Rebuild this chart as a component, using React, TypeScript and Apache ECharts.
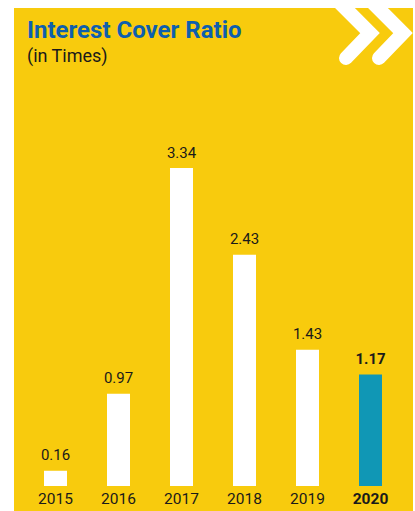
import React, { useEffect, useRef } from "react";
import * as echarts from "echarts";

const years = ["2015", "2016", "2017", "2018", "2019", "2020"];
const values = [0.16, 0.97, 3.34, 2.43, 1.43, 1.17];
const labels = ["0.16", "0.97", "3.34", "2.43", "1.43", "1.17"];

const YELLOW = "#F8CB0D";
const BLUE_TITLE = "#0E5FAD";
const TEAL = "#1097B5";

export default function App() {
  const ref = useRef<HTMLDivElement>(null);
  useEffect(() => {
    if (!ref.current) return;
    const chart = echarts.init(ref.current, null, { renderer: "svg" });
    const last = years.length - 1;
    chart.setOption({
      animation: false,
      backgroundColor: "#ffffff",
      graphic: [
        { type: "rect", shape: { x: 14, y: 8, width: 399, height: 503 }, style: { fill: YELLOW }, z: -10 },
        {
          type: "polyline",
          shape: { points: [[337, 0], [370, 33], [346, 58]] },
          style: { stroke: "#ffffff", lineWidth: 14, lineCap: "round", lineJoin: "miter", fill: null },
        },
        {
          type: "polyline",
          shape: { points: [[370, 0], [403, 33], [379, 58]] },
          style: { stroke: "#ffffff", lineWidth: 14, lineCap: "round", lineJoin: "miter", fill: null },
        },
        {
          type: "text", x: 27, y: 18,
          style: { text: "Interest Cover Ratio", fill: BLUE_TITLE, font: "bold 24px Roboto" },
        },
        {
          type: "text", x: 27, y: 46,
          style: { text: "(in Times)", fill: "#1a1a1a", font: "18px Roboto" },
        },
      ],
      grid: { left: 24, right: 13, top: 168, bottom: 25, containLabel: false },
      xAxis: {
        type: "category",
        data: years.map((y, i) => ({
          value: y,
          textStyle: { fontWeight: i === last ? "bold" : "normal" },
        })),
        axisLine: { show: false },
        axisTick: { show: false },
        axisLabel: { color: "#1a1a1a", fontSize: 15.5, fontFamily: "Roboto", margin: 5 },
      },
      yAxis: { type: "value", min: 0, max: 3.34, show: false, splitLine: { show: false } },
      series: [
        {
          type: "bar",
          barWidth: 23,
          data: values.map((v, i) => ({
            value: v,
            itemStyle: { color: i === last ? TEAL : "#ffffff" },
            label: {
              show: true,
              position: "top",
              distance: 8,
              formatter: labels[i],
              color: "#1a1a1a",
              fontSize: 15,
              fontFamily: "Roboto",
              fontWeight: i === last ? "bold" : "normal",
            },
          })),
        },
      ],
    });
    return () => chart.dispose();
  }, []);
  return (
    <div
      ref={ref}
      style={{ position: "fixed", left: 0, top: 0, width: 415, height: 511 }}
    />
  );
}
